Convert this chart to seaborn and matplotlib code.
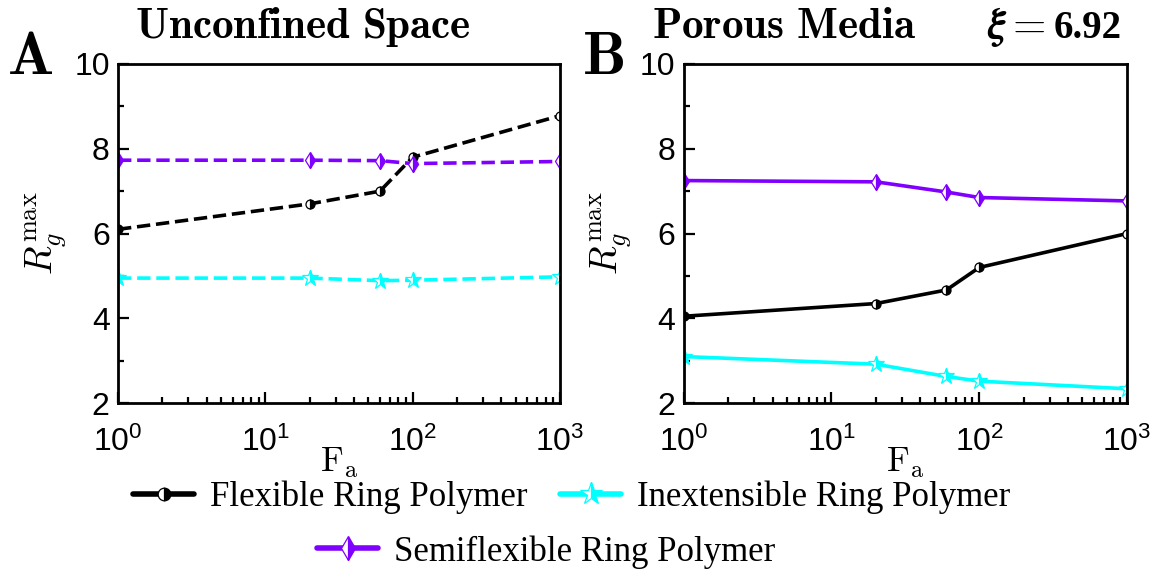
import numpy as np
import pandas as pd
import matplotlib
matplotlib.use("Agg")
import matplotlib.pyplot as plt
import seaborn as sns

# data
fa = [1, 20, 60, 100, 1000]
# A - unconfined space
free_flexible = [6.1, 6.7, 7.0, 7.8, 8.78]
free_semiflexible = [7.73, 7.73, 7.72, 7.65, 7.7]
free_inextensible = [4.95, 4.95, 4.89, 4.9, 4.98]
# B - porous media
pore_flexible = [4.05, 4.35, 4.67, 5.2, 6.0]
pore_semiflexible = [7.25, 7.22, 6.98, 6.85, 6.77]
pore_inextensible = [3.1, 2.92, 2.63, 2.52, 2.34]

xtick_vals = [1, 10, 100, 1000]
xtick_labels = [r"$\mathregular{10^{0}}$", r"$\mathregular{10^{1}}$",
                r"$\mathregular{10^{2}}$", r"$\mathregular{10^{3}}$"]
ytick_vals = [2, 4, 6, 8, 10]

sns.set_style("ticks")
plt.rcParams['font.family'] = ['Liberation Sans', 'DejaVu Sans']
plt.rcParams['mathtext.fontset'] = 'cm'
for k in ['text.color', 'axes.labelcolor', 'xtick.color', 'ytick.color', 'axes.edgecolor']:
    plt.rcParams[k] = 'black'

black = "#000000"
cyan = "#00FFFF"
purple = "#8000FF"

fig = plt.figure(figsize=(11.57, 5.76), dpi=100)
axA = fig.add_axes([0.102, 0.300, 0.382, 0.589])
axB = fig.add_axes([0.591, 0.300, 0.383, 0.589])

def draw(ax, flex, semi, inex, ls):
    sns.lineplot(x=fa, y=flex, ax=ax, color=black, linestyle=ls, linewidth=2.6,
                 marker='o', markersize=6.5, fillstyle='right', markerfacecolor=black,
                 markerfacecoloralt='white', markeredgecolor=black, markeredgewidth=0.9,
                 label="Flexible Ring Polymer")
    sns.lineplot(x=fa, y=inex, ax=ax, color=cyan, linestyle=ls, linewidth=2.6,
                 marker='*', markersize=12, fillstyle='right', markerfacecolor=cyan,
                 markerfacecoloralt='white', markeredgecolor=cyan, markeredgewidth=0.9,
                 label="Inextensible Ring Polymer")
    sns.lineplot(x=fa, y=semi, ax=ax, color=purple, linestyle=ls, linewidth=2.6,
                 marker='d', markersize=8.5, fillstyle='right', markerfacecolor=purple,
                 markerfacecoloralt='white', markeredgecolor=purple, markeredgewidth=0.9,
                 label="Semiflexible Ring Polymer")
    ax.set_xscale('log')
    ax.set_xlim(1, 1000)
    ax.set_ylim(2, 10)
    ax.set_xticks(xtick_vals)
    ax.set_xticklabels(xtick_labels)
    ax.set_yticks(ytick_vals)
    ax.set_yticks([3, 5, 7, 9], minor=True)
    ax.tick_params(which='both', direction='in', labelsize=23, width=1.6)
    ax.tick_params(which='major', length=8)
    ax.tick_params(which='minor', length=4.5)
    ax.tick_params(axis='x', which='major', pad=17)
    ax.tick_params(axis='y', pad=6)
    for s in ax.spines.values():
        s.set_linewidth(2)
    ax.set_xlabel(r"$\mathrm{F_a}$", fontsize=25, labelpad=-9)
    ax.set_ylabel(r"$R_g^{\mathrm{max}}$", fontsize=27, labelpad=4)
    ax.get_legend().remove()

draw(axA, free_flexible, free_semiflexible, free_inextensible, '--')
draw(axB, pore_flexible, pore_semiflexible, pore_inextensible, '-')

fig.text(0.262, 0.934, r"$\mathbf{Unconfined\ Space}$", fontsize=31, ha='center', va='baseline')
fig.text(0.678, 0.934, r"$\mathbf{Porous\ Media}$", fontsize=31, ha='center', va='baseline')
fig.text(0.904, 0.934, r"$\boldsymbol{\xi} =$", fontsize=31, ha='right', va='baseline')
fig.text(0.911, 0.934, "6.92", fontsize=28, family='Liberation Serif', weight='bold',
         ha='left', va='baseline')
fig.text(0.026, 0.898, r"$\mathbf{A}$", fontsize=44, ha='center', va='center')
fig.text(0.521, 0.898, r"$\mathbf{B}$", fontsize=44, ha='center', va='center')

handles, labels = axB.get_legend_handles_labels()
leg_font = {'family': 'Liberation Serif', 'size': 25}
leg1 = fig.legend(handles[:2], labels[:2], loc='center', bbox_to_anchor=(0.494, 0.137), ncol=2,
                  frameon=False, prop=leg_font,
                  handlelength=1.75, columnspacing=0.95, handletextpad=0.45)
leg2 = fig.legend(handles[2:], labels[2:], loc='center', bbox_to_anchor=(0.472, 0.042),
                  frameon=False, prop=leg_font,
                  handlelength=1.75, handletextpad=0.45)
for leg in (leg1, leg2):
    for ln in leg.get_lines():
        ln.set_linewidth(4)
        ln.set_markersize(ln.get_markersize() * 1.4)

plt.savefig('out.png', dpi=100)
